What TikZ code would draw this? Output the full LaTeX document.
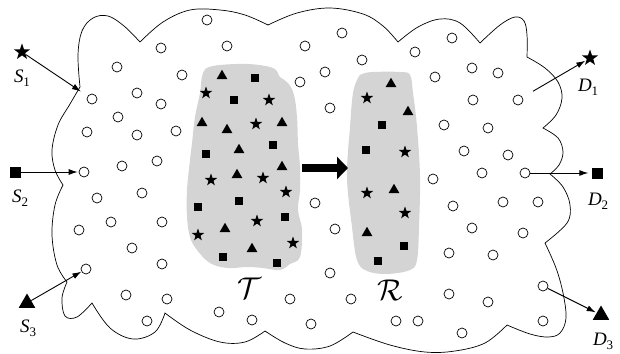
\documentclass[tikz,border=0pt]{standalone}
\usepackage{fontspec}
\setmainfont{Liberation Serif}
\usetikzlibrary{shapes.geometric,arrows.meta}
\newcommand{\lab}[2]{\fontsize{19}{19}\selectfont\textit{#1}\kern-0.2pt\raisebox{-0.22em}{\fontsize{13}{13}\selectfont #2}}
\begin{document}
\begin{tikzpicture}[x=1pt,y=-1pt,
  pt/.style={circle,draw,minimum size=10pt,inner sep=0pt,line width=0.7pt},
  sstar/.style={star,star points=5,star point ratio=2.5,fill,draw=none,inner sep=0pt,minimum size=13pt},
  ssq/.style={rectangle,fill,draw=none,inner sep=0pt,minimum size=8.5pt},
  stri/.style={regular polygon,regular polygon sides=3,fill,draw=none,inner sep=0pt,minimum size=12.5pt},
  bstar/.style={sstar,minimum size=17pt},
  bsq/.style={ssq,minimum size=11pt},
  btri/.style={stri,minimum size=19pt},
  blob/.style={fill=black!17,draw=none},
  arr/.style={-{Latex[length=9pt,width=6pt]},line width=0.9pt},
  lbl/.style={anchor=base west,inner sep=0pt},
  cal/.style={scale=3,inner sep=0pt}]
\useasboundingbox (0,0) rectangle (620,353);

% cloud outline
\draw[line width=0.7pt, smooth, tension=0.6]
 plot coordinates {(80,87) (78,55) (82,31) (93,18) (108,16) (124,26) (140,42)}
 -- plot coordinates {(140,42) (163,22) (190,10) (220,10) (245,15) (268,25)}
 -- plot coordinates {(268,25) (297,13) (330,8) (363,14) (383,26) (398,42)}
 -- plot coordinates {(398,42) (418,27) (440,19) (460,23) (480,43)}
 -- plot coordinates {(480,43) (500,25) (515,17) (524,21) (527,35) (527,57)}
 -- plot coordinates {(527,57) (545,68) (558,82) (562,98) (556,115) (543,128)}
 -- plot coordinates {(543,128) (558,138) (563,152) (559,165) (550,174)}
 -- plot coordinates {(550,174) (563,187) (570,205) (567,223) (545,243)}
 -- plot coordinates {(545,243) (556,268) (563,293) (566,318) (560,333) (548,337) (530,334) (507,325)}
 -- plot coordinates {(507,325) (485,343) (455,351) (425,352) (390,345) (353,332)}
 -- plot coordinates {(353,332) (330,346) (305,349) (285,343) (265,331)}
 -- plot coordinates {(265,331) (245,342) (220,342) (190,330) (165,313)}
 -- plot coordinates {(165,313) (155,332) (133,339) (110,328) (92,303)}
 -- plot coordinates {(92,303) (77,317) (65,316) (62,298) (67,282)}
 -- plot coordinates {(67,282) (57,265) (52,235) (55,205) (63,185)}
 -- plot coordinates {(63,185) (55,170) (52,150) (58,125) (70,104) (80,87)};

% gray regions
\fill[blob] plot[smooth cycle,tension=0.6] coordinates {(203,73) (213,66) (247,64) (273,68) (280,77) (288,83) (294,95) (297,117) (298,143) (300,167) (300,190) (298,210) (302,230) (300,257) (290,264) (280,270) (263,268) (247,267) (227,268) (210,263) (197,250) (190,237) (187,217) (187,190) (190,160) (192,143) (195,117) (200,93)};
\fill[blob] plot[smooth cycle,tension=0.6] coordinates {(358,78) (362,74) (373,72) (400,72) (410,75) (413,93) (417,127) (420,177) (419,227) (417,260) (410,270) (387,274) (367,271) (357,260) (352,227) (347,177) (350,127) (353,93)};

% symbols in T and R
\foreach \x/\y [count=\i] in {222/76,202/123,227/130,282/123,239/150,282/167,237/175,225/229,252/249,391/84,408/112,394/190,367/233}
  \node[stri] (tr\i) at (\x,\y) {};
\foreach \x/\y [count=\i] in {255/78,234/100,273/145,206/154,239/201,198/207,285/217,223/257,277/263,382/125,366/150,404/246,378/261}
  \node[ssq] (sq\i) at (\x,\y) {};
\foreach \x/\y [count=\i] in {206/93,269/100,256/124,211/180,263/178,286/192,257/221,198/235,293/243,367/98,405/152,367/193,405/213}
  \node[sstar] (st\i) at (\x,\y) {};

% labels T and R
\node[cal] (Tl) at (249,288) {$\mathcal{T}$};
\node[cal] (Rl) at (390,290) {$\mathcal{R}$};

% thick arrow
\coordinate (ta) at (302,168);
\coordinate (tb) at (348,168);
\draw[line width=8pt,-{Triangle[length=11pt,width=22pt]}] (ta) -- (tb);

% circles
\node[pt] (in1) at (92,99) {};
\node[pt] (in2) at (84,172) {};
\node[pt] (in3) at (86,269) {};
\node[pt] (out1) at (518,100) {};
\node[pt] (out2) at (525,173) {};
\node[pt] (out3) at (543,286) {};
\foreach \x/\y [count=\i] in {207/20,161/48,227/46,117/67,182/75,137/93,161/104,118/117,87/132,137/135,176/131,122/166,157/161,97/198,142/193,111/222,162/222,79/230,132/248,162/264,126/295,167/299,147/321,219/312,252/320,290/299,311/324,351/299,330/273,335/229,315/203,330/108,300/82,325/72,305/46,342/33,362/60,415/52,435/77,452/38,472/68,498/73,473/100,444/125,488/128,464/151,508/155,482/173,433/179,453/206,503/202,538/202,472/228,523/233,449/253,493/255,449/294,488/302,543/321,462/333,396/321,418/321}
  \node[pt] (c\i) at (\x,\y) {};

% sources and destinations
\node[bstar] (S1) at (22,52) {};
\node[bsq] (S2) at (15,172) {};
\node[btri] (S3) at (27,303) {};
\node[bstar] (D1) at (590,58) {};
\node[bsq] (D2) at (597,173) {};
\node[btri] (D3) at (601,315) {};

\draw[arr,shorten >=8pt] (S1) -- (in1);
\draw[arr,shorten >=1pt] (S2) -- (in2);
\draw[arr] (S3) -- (in3);
\draw[arr,shorten <=12pt,shorten >=1pt] (out1) -- (D1);
\draw[arr,shorten >=3pt] (out2) -- (D2);
\draw[arr,shorten >=1pt] (out3) -- (D3);

\node[lbl] (S1l) at (14,82) {\lab{S}{1}};
\node[lbl] (S2l) at (12,202) {\lab{S}{2}};
\node[lbl] (S3l) at (20,332) {\lab{S}{3}};
\node[lbl] (D1l) at (578,91) {\lab{D}{1}};
\node[lbl] (D2l) at (588,205) {\lab{D}{2}};
\node[lbl] (D3l) at (593,345) {\lab{D}{3}};
\end{tikzpicture}
\end{document}
